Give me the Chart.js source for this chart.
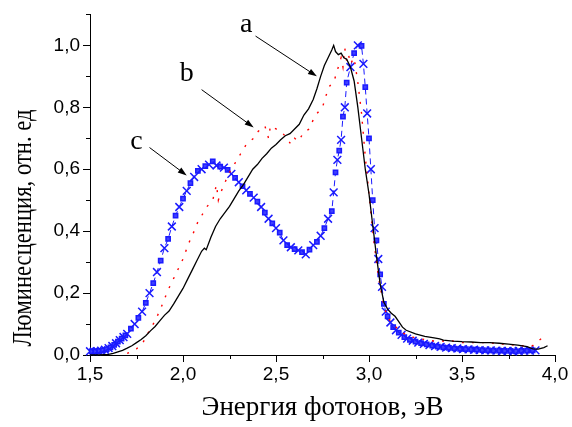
<!DOCTYPE html>
<html lang="ru">
<head>
    <meta charset="UTF-8">
    <title>Люминесценция</title>
    <script src="https://cdn.jsdelivr.net/npm/chart.js"></script>
    <style>
        html, body { margin: 0; padding: 0; background: #fff; }
        canvas { display: block; }
    </style>
</head>
<body>
    <canvas id="lumChart" width="572" height="427"></canvas>

    <script>
    // curve a (black, solid)
    const aX = [1.50, 1.55, 1.60, 1.625, 1.65, 1.675, 1.70, 1.725, 1.75, 1.775, 1.80, 1.825, 1.85, 1.875, 1.90, 1.925, 1.95, 1.975,
        2.00, 2.025, 2.05, 2.075, 2.10, 2.115, 2.125, 2.15, 2.175, 2.20, 2.225, 2.25, 2.275, 2.30, 2.325, 2.35, 2.375, 2.40,
        2.425, 2.45, 2.475, 2.50, 2.525, 2.55, 2.575, 2.60, 2.625, 2.65, 2.675, 2.70, 2.72, 2.74, 2.76, 2.78, 2.80, 2.81,
        2.82, 2.835, 2.85, 2.865, 2.88, 2.90, 2.92, 2.94, 2.96, 2.98, 3.00, 3.02, 3.04, 3.06, 3.08, 3.10, 3.12, 3.14,
        3.16, 3.18, 3.20, 3.25, 3.30, 3.35, 3.38, 3.40, 3.45, 3.50, 3.55, 3.60, 3.65, 3.70, 3.75, 3.80, 3.85, 3.88,
        3.91, 3.94, 3.96];
    const aY = [0.000, 0.000, 0.002, 0.005, 0.010, 0.015, 0.022, 0.030, 0.040, 0.050, 0.062, 0.078, 0.092, 0.110, 0.128, 0.142, 0.165, 0.190,
        0.215, 0.245, 0.275, 0.305, 0.335, 0.345, 0.340, 0.380, 0.415, 0.440, 0.460, 0.480, 0.505, 0.530, 0.550, 0.575, 0.600, 0.615,
        0.635, 0.650, 0.668, 0.680, 0.695, 0.708, 0.715, 0.730, 0.745, 0.775, 0.795, 0.825, 0.860, 0.900, 0.935, 0.960, 0.985, 1.000,
        0.980, 0.970, 0.975, 0.960, 0.955, 0.930, 0.885, 0.800, 0.700, 0.600, 0.520, 0.420, 0.320, 0.230, 0.170, 0.148, 0.135, 0.125,
        0.108, 0.090, 0.080, 0.068, 0.060, 0.055, 0.052, 0.048, 0.045, 0.043, 0.042, 0.040, 0.040, 0.038, 0.035, 0.032, 0.027, 0.020,
        0.019, 0.024, 0.030];

    // curve b (red, broken)
    const bX = [1.70, 1.75, 1.78, 1.82, 1.85, 1.88, 1.92, 1.96, 2.00, 2.03, 2.06, 2.08, 2.10, 2.13, 2.16, 2.18, 2.19, 2.20,
        2.22, 2.25, 2.28, 2.31, 2.34, 2.36, 2.38, 2.40, 2.42, 2.44, 2.46, 2.47, 2.50, 2.53, 2.56, 2.58, 2.60, 2.62,
        2.65, 2.68, 2.70, 2.72, 2.75, 2.77, 2.79, 2.81, 2.83, 2.85, 2.86, 2.87, 2.88, 2.89, 2.90, 2.92, 2.94, 2.96,
        2.98, 3.00, 3.02, 3.04, 3.06, 3.08, 3.10, 3.13, 3.16, 3.20, 3.25, 3.30, 3.35, 3.40, 3.45, 3.50, 3.55, 3.60,
        3.65, 3.70, 3.75, 3.80, 3.85, 3.88, 3.90, 3.93, 3.95];
    const bY = [0.005, 0.020, 0.035, 0.080, 0.110, 0.150, 0.210, 0.260, 0.310, 0.360, 0.400, 0.430, 0.450, 0.480, 0.500, 0.550, 0.500, 0.520,
        0.550, 0.590, 0.620, 0.650, 0.680, 0.690, 0.700, 0.720, 0.730, 0.740, 0.700, 0.740, 0.730, 0.720, 0.700, 0.680, 0.700, 0.690,
        0.720, 0.730, 0.760, 0.780, 0.800, 0.840, 0.870, 0.880, 0.920, 0.960, 0.930, 0.990, 0.950, 0.970, 0.940, 0.960, 0.880, 0.780,
        0.640, 0.520, 0.400, 0.300, 0.220, 0.160, 0.120, 0.100, 0.080, 0.065, 0.055, 0.050, 0.045, 0.045, 0.045, 0.040, 0.040, 0.040,
        0.040, 0.035, 0.035, 0.030, 0.030, 0.030, 0.040, 0.055, 0.070];

    // curve c (blue, dashed with markers)
    const cX = [1.50, 1.51, 1.52, 1.53, 1.54, 1.55, 1.56, 1.57, 1.58, 1.59, 1.60, 1.61, 1.62, 1.63, 1.64, 1.65, 1.66, 1.67,
        1.68, 1.69, 1.70, 1.72, 1.74, 1.76, 1.78, 1.80, 1.82, 1.84,
        1.86, 1.88, 1.90, 1.92, 1.94, 1.96, 1.98, 2.00, 2.02, 2.04, 2.06, 2.08, 2.10, 2.12, 2.14, 2.16, 2.18, 2.20,
        2.22, 2.24, 2.26, 2.28, 2.30, 2.32, 2.34, 2.36, 2.38, 2.40, 2.42, 2.44, 2.46, 2.48, 2.50, 2.52, 2.54, 2.56,
        2.58, 2.60, 2.62, 2.64, 2.66, 2.68, 2.70, 2.72, 2.74, 2.76, 2.78, 2.80, 2.81, 2.82, 2.83, 2.84, 2.85, 2.86,
        2.87, 2.88, 2.90, 2.92, 2.94, 2.96, 2.97, 2.98, 2.99, 3.00, 3.01, 3.02, 3.03, 3.04, 3.05, 3.06, 3.07, 3.08,
        3.09, 3.10, 3.115, 3.13, 3.145, 3.16, 3.175, 3.19, 3.205, 3.22, 3.235, 3.25, 3.265, 3.28, 3.295, 3.31, 3.325, 3.34,
        3.355, 3.37, 3.385, 3.40, 3.415, 3.43, 3.445, 3.46, 3.475, 3.49, 3.505, 3.52, 3.535, 3.55, 3.565, 3.58, 3.595, 3.61,
        3.625, 3.64, 3.655, 3.67, 3.685, 3.70, 3.715, 3.73, 3.745, 3.76, 3.775, 3.79, 3.805, 3.82, 3.835, 3.85, 3.865, 3.88, 3.895];
    const cY = [0.012, 0.012, 0.011, 0.012, 0.012, 0.013, 0.014, 0.015, 0.017, 0.019, 0.022, 0.025, 0.029, 0.033, 0.038, 0.043, 0.048, 0.053,
        0.058, 0.063, 0.068, 0.085, 0.100, 0.120, 0.140, 0.168, 0.200, 0.232,
        0.268, 0.305, 0.345, 0.375, 0.415, 0.450, 0.478, 0.505, 0.530, 0.555, 0.575, 0.595, 0.600, 0.610, 0.615, 0.625, 0.612, 0.608,
        0.605, 0.598, 0.585, 0.572, 0.558, 0.545, 0.532, 0.520, 0.508, 0.495, 0.478, 0.460, 0.440, 0.425, 0.410, 0.395, 0.370, 0.355,
        0.348, 0.342, 0.338, 0.332, 0.325, 0.340, 0.355, 0.365, 0.385, 0.410, 0.440, 0.465, 0.525, 0.590, 0.630, 0.660, 0.695, 0.770,
        0.800, 0.880, 0.930, 0.975, 1.000, 0.998, 0.940, 0.865, 0.780, 0.700, 0.600, 0.500, 0.410, 0.370, 0.310, 0.260, 0.220, 0.165,
        0.140, 0.125, 0.105, 0.090, 0.080, 0.072, 0.065, 0.058, 0.053, 0.049, 0.046, 0.043, 0.040, 0.038, 0.036, 0.034, 0.032, 0.030,
        0.029, 0.027, 0.026, 0.025, 0.024, 0.023, 0.022, 0.021, 0.021, 0.020, 0.019, 0.019, 0.018, 0.018, 0.017, 0.017, 0.016, 0.016,
        0.015, 0.015, 0.015, 0.014, 0.014, 0.014, 0.013, 0.013, 0.013, 0.013, 0.012, 0.012, 0.013, 0.013, 0.014, 0.014, 0.014, 0.015, 0.015];

    // labels a, b, c and their arrows (data coordinates)
    const labelText = ['a', 'b', 'c'];
    const labelX = [2.34, 2.02, 1.75];
    const labelY = [1.068, 0.91, 0.69];
    const arrowFromX = [2.39, 2.10, 1.82];
    const arrowFromY = [1.03, 0.857, 0.67];
    const arrowToX = [2.72, 2.38, 2.02];
    const arrowToY = [0.90, 0.735, 0.58];

    function toPoints(xs, ys) {
        return xs.map((x, i) => ({ x: x, y: ys[i] }));
    }

    function fmt(v) {
        return v.toFixed(1).replace('.', ',');
    }

    const extras = {
        id: 'extras',
        afterDraw(chart) {
            const ctx = chart.ctx;
            const xs = chart.scales.x;
            const ys = chart.scales.y;
            ctx.save();
            ctx.strokeStyle = '#000';
            ctx.fillStyle = '#000';
            ctx.lineWidth = 1;

            // minor ticks
            xs.ticks.forEach(t => {
                if (Math.abs(t.value * 2 - Math.round(t.value * 2)) > 1e-6) {
                    const px = Math.round(xs.getPixelForValue(t.value)) + 0.5;
                    ctx.beginPath();
                    ctx.moveTo(px, ys.bottom);
                    ctx.lineTo(px, ys.bottom + 4);
                    ctx.stroke();
                }
            });
            ys.ticks.forEach(t => {
                if (Math.round(t.value * 10) % 2 === 1) {
                    const py = Math.round(ys.getPixelForValue(t.value)) + 0.5;
                    ctx.beginPath();
                    ctx.moveTo(xs.left, py);
                    ctx.lineTo(xs.left - 4, py);
                    ctx.stroke();
                }
            });

            // arrows
            for (let i = 0; i < arrowFromX.length; i++) {
                const x1 = xs.getPixelForValue(arrowFromX[i]);
                const y1 = ys.getPixelForValue(arrowFromY[i]);
                const x2 = xs.getPixelForValue(arrowToX[i]);
                const y2 = ys.getPixelForValue(arrowToY[i]);
                const ang = Math.atan2(y2 - y1, x2 - x1);
                ctx.beginPath();
                ctx.moveTo(x1, y1);
                ctx.lineTo(x2 - 6 * Math.cos(ang), y2 - 6 * Math.sin(ang));
                ctx.stroke();
                ctx.beginPath();
                ctx.moveTo(x2, y2);
                ctx.lineTo(x2 - 9 * Math.cos(ang) + 3 * Math.sin(ang), y2 - 9 * Math.sin(ang) - 3 * Math.cos(ang));
                ctx.lineTo(x2 - 9 * Math.cos(ang) - 3 * Math.sin(ang), y2 - 9 * Math.sin(ang) + 3 * Math.cos(ang));
                ctx.closePath();
                ctx.fill();
            }

            // letters
            ctx.font = '28px "Liberation Serif"';
            ctx.textAlign = 'center';
            ctx.textBaseline = 'middle';
            labelText.forEach((t, i) => {
                ctx.fillText(t, xs.getPixelForValue(labelX[i]), ys.getPixelForValue(labelY[i]));
            });

            // y axis title, squeezed like the original
            const yTitle = 'Люминесценция, отн. ед';
            ctx.font = '27px "Liberation Serif"';
            const w = ctx.measureText(yTitle).width;
            ctx.translate(24, 228);
            ctx.rotate(-Math.PI / 2);
            ctx.scale(237 / w, 1);
            ctx.fillText(yTitle, 0, 0);
            ctx.restore();
        }
    };

    new Chart(document.getElementById('lumChart'), {
        type: 'line',
        data: {
            datasets: [
                {
                    label: 'a',
                    data: toPoints(aX, aY),
                    borderColor: '#000',
                    borderWidth: 1.3,
                    pointRadius: 0,
                    tension: 0,
                    clip: false
                },
                {
                    label: 'b',
                    data: toPoints(bX, bY),
                    borderColor: '#ff0000',
                    borderWidth: 1.4,
                    borderDash: [2, 8],
                    pointRadius: 0,
                    tension: 0,
                    clip: false
                },
                {
                    label: 'c',
                    data: toPoints(cX, cY),
                    borderColor: '#1a1aff',
                    borderWidth: 1,
                    borderDash: [6, 4],
                    pointStyle: ctx => ctx.dataIndex % 2 ? 'rect' : 'crossRot',
                    pointRadius: ctx => ctx.dataIndex % 2 ? 3 : 5.5,
                    pointBorderColor: '#1a1aff',
                    pointBackgroundColor: '#4040ff',
                    pointBorderWidth: 1.5,
                    tension: 0,
                    clip: false
                }
            ]
        },
        options: {
            responsive: false,
            animation: false,
            events: [],
            layout: { padding: { top: 13, right: 17, left: 0, bottom: 0 } },
            plugins: {
                legend: { display: false },
                tooltip: { enabled: false }
            },
            scales: {
                x: {
                    type: 'linear',
                    min: 1.5,
                    max: 4.0,
                    border: { display: true, color: '#000', width: 1 },
                    grid: {
                        drawOnChartArea: false,
                        drawTicks: true,
                        tickLength: 7,
                        tickColor: ctx => (ctx.tick && Math.abs(ctx.tick.value * 2 - Math.round(ctx.tick.value * 2)) < 1e-6) ? '#000' : 'rgba(0,0,0,0)'
                    },
                    ticks: {
                        stepSize: 0.25,
                        autoSkip: false,
                        maxRotation: 0,
                        padding: 1,
                        color: '#000',
                        font: { family: 'Liberation Sans', size: 19 },
                        callback: v => Math.abs(v * 2 - Math.round(v * 2)) < 1e-6 ? fmt(v) : ''
                    },
                    title: {
                        display: true,
                        text: 'Энергия фотонов, эВ',
                        color: '#000',
                        font: { family: 'Liberation Serif', size: 27, lineHeight: 1 },
                        padding: { top: 0, bottom: 6 }
                    },
                    afterFit: scale => { scale.height = 72; }
                },
                y: {
                    min: 0,
                    max: 1.1,
                    border: { display: true, color: '#000', width: 1 },
                    grid: {
                        drawOnChartArea: false,
                        drawTicks: true,
                        tickLength: 7,
                        tickColor: ctx => (ctx.tick && Math.round(ctx.tick.value * 10) % 2 === 0) ? '#000' : 'rgba(0,0,0,0)'
                    },
                    ticks: {
                        stepSize: 0.1,
                        autoSkip: false,
                        padding: 3,
                        color: '#000',
                        font: { family: 'Liberation Sans', size: 19 },
                        callback: v => (Math.round(v * 10) % 2 === 0 && v < 1.05) ? fmt(v) : ''
                    },
                    afterFit: scale => { scale.width = 90; }
                }
            }
        },
        plugins: [extras]
    });
    </script>
</body>
</html>
